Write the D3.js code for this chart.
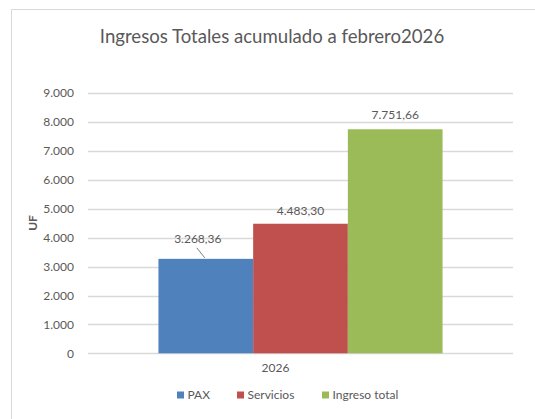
<!DOCTYPE html>
<html>
<head>
<meta charset="utf-8">
<script src="https://cdn.jsdelivr.net/npm/d3@7.9.0/dist/d3.min.js"></script>
<style>
  body { margin: 0; background: #fff; }
  svg { display: block; font-family: Lato, "Open Sans", sans-serif; }
</style>
</head>
<body>
<svg id="chart" width="535" height="419"></svg>
<script>
// ---- data ----
const categories = ['2026'];
const seriesNames = ['PAX', 'Servicios', 'Ingreso total'];
const seriesValues = [3268.36, 4483.30, 7751.66];
const seriesColors = ['#4F81BD', '#C0504D', '#9BBB59'];
const yTicks = [0, 1000, 2000, 3000, 4000, 5000, 6000, 7000, 8000, 9000];

const fmt = d3.formatLocale({ decimal: ',', thousands: '.', grouping: [3], currency: ['', ''] });
const tickFmt = fmt.format(',.0f');
const valFmt = fmt.format(',.2f');

const svg = d3.select('#chart');
const textColor = '#595959';

// chart frame (cut off at right/bottom like the screenshot)
svg.append('path')
  .attr('d', 'M11.5,440 V9.5 H560')
  .attr('fill', 'none')
  .attr('stroke', '#D9D9D9')
  .attr('stroke-width', 1);

// ---- scales ----
const y = d3.scaleLinear().domain([0, 9000]).range([353.3, 93.2]);
const x0 = d3.scaleBand().domain(categories).range([88, 513]).paddingInner(0).paddingOuter(0.248);
const x1 = d3.scaleBand().domain(seriesNames).range([0, x0.bandwidth()]);
const color = d3.scaleOrdinal().domain(seriesNames).range(seriesColors);

// gridlines
svg.append('g')
  .selectAll('line')
  .data(yTicks)
  .join('line')
  .attr('x1', 88).attr('x2', 513)
  .attr('y1', d => Math.round(y(d)) + 0.5)
  .attr('y2', d => Math.round(y(d)) + 0.5)
  .attr('stroke', '#D9D9D9')
  .attr('stroke-width', 1.3);

// y tick labels
svg.append('g')
  .selectAll('text')
  .data(yTicks)
  .join('text')
  .attr('x', 74)
  .attr('y', d => y(d))
  .attr('dy', '0.35em')
  .attr('text-anchor', 'end')
  .attr('font-size', 12)
  .attr('fill', textColor)
  .text(d => tickFmt(d));

// bars
const rows = seriesNames.map((s, i) => ({ series: s, category: categories[0], value: seriesValues[i] }));

svg.append('g')
  .selectAll('rect')
  .data(rows)
  .join('rect')
  .attr('x', d => x0(d.category) + x1(d.series))
  .attr('y', d => y(d.value))
  .attr('width', x1.bandwidth())
  .attr('height', d => y(0) - y(d.value))
  .attr('fill', d => color(d.series));

// data labels
const labelOffsets = { 'PAX': { dx: -8, dy: -20 }, 'Servicios': { dx: 0, dy: -13 }, 'Ingreso total': { dx: 0, dy: -14 } };

svg.append('g')
  .selectAll('text')
  .data(rows)
  .join('text')
  .attr('x', d => x0(d.category) + x1(d.series) + x1.bandwidth() / 2 + labelOffsets[d.series].dx)
  .attr('y', d => y(d.value) + labelOffsets[d.series].dy)
  .attr('dy', '0.35em')
  .attr('text-anchor', 'middle')
  .attr('font-size', 12)
  .attr('fill', textColor)
  .text(d => valFmt(d.value));

// leader line for PAX label
const pax = rows[0];
const paxCx = x0(pax.category) + x1(pax.series) + x1.bandwidth() / 2;
svg.append('line')
  .attr('x1', paxCx - 9).attr('y1', y(pax.value) - 11)
  .attr('x2', paxCx - 1).attr('y2', y(pax.value) - 1)
  .attr('stroke', '#7F7F7F')
  .attr('stroke-width', 1);

// category label (Excel puts it a bit left of centre here)
svg.append('g')
  .selectAll('text')
  .data(categories)
  .join('text')
  .attr('x', d => x0(d) + x0.bandwidth() / 2 - 25)
  .attr('y', 368)
  .attr('dy', '0.35em')
  .attr('text-anchor', 'middle')
  .attr('font-size', 12)
  .attr('fill', textColor)
  .text(d => d);

// title
svg.append('text')
  .attr('x', 272)
  .attr('y', 36)
  .attr('dy', '0.35em')
  .attr('text-anchor', 'middle')
  .attr('font-size', 18.6)
  .attr('fill', textColor)
  .text('Ingresos Totales acumulado a febrero2026');

// y axis title
svg.append('text')
  .attr('transform', 'translate(33,223) rotate(-90)')
  .attr('dy', '0.35em')
  .attr('text-anchor', 'middle')
  .attr('font-size', 12)
  .attr('font-weight', 'bold')
  .attr('fill', textColor)
  .text('UF');

// legend
const legendX = [177, 237, 322];
const legend = svg.append('g')
  .selectAll('g')
  .data(seriesNames)
  .join('g')
  .attr('transform', (d, i) => `translate(${legendX[i]},395)`);

legend.append('rect')
  .attr('x', 0).attr('y', -3.5)
  .attr('width', 7).attr('height', 7)
  .attr('fill', d => color(d));

legend.append('text')
  .attr('x', 10.5)
  .attr('dy', '0.35em')
  .attr('font-size', 12)
  .attr('fill', textColor)
  .text(d => d);
</script>
</body>
</html>
